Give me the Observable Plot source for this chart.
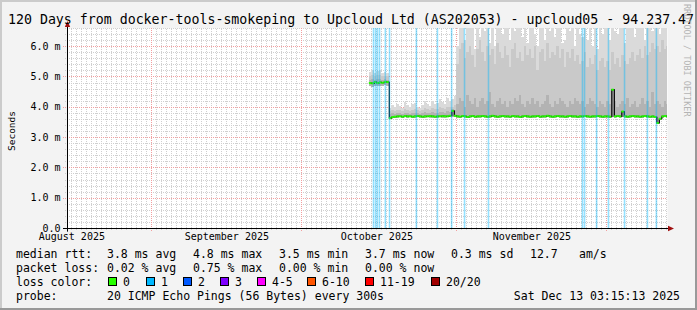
<!DOCTYPE html>
<html><head><meta charset="utf-8">
<script src="https://cdn.jsdelivr.net/npm/d3@7"></script>
<script src="https://cdn.jsdelivr.net/npm/@observablehq/plot@0.6"></script>
<style>
body{margin:0;background:#f3f3f3;}
#chart{position:relative;width:697px;height:310px;background:#f3f3f3;overflow:hidden;}
#chart svg{position:absolute;left:0;top:0;}
</style></head><body><div id="chart"></div>
<script>
// ---------- data ----------
const titleText = "120 Days from docker-tools-smokeping to Upcloud Ltd (AS202053) - upcloud05 - 94.237.47";
const startTime = "2025-08-15T03:15:13Z";
const endTime = "2025-12-13T03:15:13Z";
const bucketStartTime = "2025-10-14T12:00:00Z"; // half-day buckets
const yTicks = [0, 1, 2, 3, 4, 5, 6];
const yTickLabels = ["0.0", "1.0 m", "2.0 m", "3.0 m", "4.0 m", "5.0 m", "6.0 m"];
const monthStarts = ["2025-09-01", "2025-10-01", "2025-11-01", "2025-12-01"];
const monthLabelDates = ["2025-08-16", "2025-09-16", "2025-10-16", "2025-11-16"];
const monthLabels = ["August 2025", "September 2025", "October 2025", "November 2025"];

const median = [
  4.80,4.79,4.83,4.80,4.82,4.81,4.84,4.83,
  3.64,3.68,3.69,3.70,3.70,3.69,3.71,3.70,3.70,3.69,3.70,3.71,3.70,3.69,3.70,3.70,3.71,3.70,3.69,3.70,3.70,3.71,3.70,3.70,3.72,3.88,3.72,
  3.70,3.69,3.71,3.70,3.68,3.70,3.71,3.69,3.70,3.70,
  3.71,3.70,3.69,3.70,3.72,3.70,3.69,3.70,3.71,3.70,
  3.70,3.69,3.71,3.70,3.70,3.68,3.70,3.71,3.70,3.69,
  3.70,3.70,3.71,3.69,3.70,3.70,3.72,3.70,3.69,3.70,
  3.71,3.70,3.70,3.69,3.70,3.71,3.70,3.70,3.69,3.70,
  3.70,3.71,3.70,3.69,3.70,3.70,3.71,3.70,3.69,3.70,
  3.70,3.69,4.58,3.70,3.71,3.70,3.86,3.70,3.69,3.70,
  3.71,3.70,3.70,3.69,3.70,3.71,3.70,3.69,3.70,3.68,
  3.48,3.62,3.70,3.71,3.70
];
const smokeMin = [
  4.68,4.66,4.70,4.67,4.69,4.68,4.71,4.70,
  3.60,3.63,3.64,3.64,3.65,3.64,3.65,3.64,3.65,3.64,3.64,3.65,3.64,3.63,3.64,3.65,3.64,3.64,3.63,3.64,3.65,3.64,3.64,3.65,3.65,3.66,3.66,
  3.64,3.63,3.65,3.64,3.62,3.64,3.65,3.63,3.64,3.64,
  3.65,3.64,3.63,3.64,3.66,3.64,3.63,3.64,3.65,3.64,
  3.64,3.63,3.65,3.64,3.64,3.62,3.64,3.65,3.64,3.63,
  3.64,3.64,3.65,3.63,3.64,3.64,3.66,3.64,3.63,3.64,
  3.65,3.64,3.64,3.63,3.64,3.65,3.64,3.64,3.63,3.64,
  3.64,3.65,3.64,3.63,3.64,3.64,3.65,3.64,3.63,3.64,
  3.64,3.63,3.66,3.64,3.65,3.64,3.66,3.64,3.63,3.64,
  3.65,3.64,3.64,3.63,3.64,3.65,3.64,3.63,3.64,3.62,
  3.42,3.56,3.64,3.65,3.64
];
const smokeLo = [
  4.90,4.92,4.88,4.91,4.93,4.89,4.92,4.90,
  3.76,3.78,3.77,3.79,3.78,3.76,3.80,3.79,3.77,3.79,3.80,3.78,3.77,3.79,3.82,3.80,3.79,3.83,3.80,3.81,3.84,3.82,3.81,3.85,3.84,3.92,3.88,
  4.1,4.3,4.2,4.0,4.4,4.2,4.1,4.3,4.0,4.2,
  4.3,4.1,4.2,4.5,4.1,4.0,4.2,4.3,4.1,4.2,
  4.0,4.2,4.1,4.3,4.2,4.4,4.1,4.0,4.2,4.1,
  4.3,4.1,4.2,4.0,4.1,4.2,4.4,4.1,4.0,4.2,
  4.1,4.3,4.2,4.1,4.0,4.2,4.1,4.3,4.2,4.1,
  4.2,4.0,4.1,4.3,4.2,4.1,4.0,4.2,4.1,4.0,
  4.2,4.1,4.6,4.2,4.0,4.1,4.2,4.1,4.3,4.0,
  4.1,4.2,4.0,4.1,4.3,4.1,4.2,4.0,4.5,4.1,
  4.2,4.1,4.0,4.2,4.1
];
const smokeMid = [
  5.02,5.05,5.00,5.04,5.06,5.01,5.03,5.00,
  3.85,3.88,3.86,3.90,3.88,3.85,3.92,3.90,3.87,3.90,3.92,3.88,3.86,3.90,3.95,3.92,3.90,3.96,3.92,3.94,3.98,3.95,3.93,4.00,3.98,4.00,4.05,
  5.4,5.9,6.1,5.6,5.8,6.0,5.7,5.3,5.9,6.2,
  5.8,5.5,6.0,5.7,5.9,5.4,6.1,5.8,5.6,6.0,
  5.7,5.3,5.9,6.1,5.6,5.8,5.5,6.0,5.7,5.9,
  5.6,6.0,5.2,5.8,5.9,5.5,6.1,5.6,5.8,5.7,
  6.0,5.6,5.9,5.3,5.8,5.6,5.9,5.5,5.7,5.4,
  5.5,5.8,5.3,5.6,5.4,5.7,5.2,5.5,5.6,5.3,
  5.5,5.2,5.8,5.4,5.6,5.3,5.7,5.5,5.4,5.6,
  5.8,5.5,5.7,5.9,5.6,6.0,5.7,5.8,6.1,5.9,
  6.0,5.8,6.2,5.9,6.0
];
const smokeTop = [
  5.15,5.20,5.10,5.18,5.22,5.12,5.15,5.10,
  3.95,4.05,3.98,4.10,4.02,3.96,4.15,4.05,3.98,4.08,4.12,4.00,3.95,4.06,4.18,4.10,4.02,4.20,4.08,4.12,4.25,4.15,4.10,4.30,4.20,4.25,4.35,
  6.0,6.8,6.8,6.2,6.8,6.6,6.8,5.9,6.8,6.3,
  6.8,6.5,6.8,6.1,6.8,6.0,6.8,6.8,6.4,6.8,
  6.8,6.2,6.8,6.5,6.8,6.8,6.3,6.8,6.1,6.8,
  6.8,6.4,6.0,6.8,6.8,6.2,6.8,6.5,6.8,6.3,
  6.8,6.8,6.1,6.2,6.8,6.5,6.8,6.0,6.8,6.4,
  6.3,6.8,6.2,6.8,6.0,6.8,5.9,6.8,6.4,6.8,
  6.8,6.2,6.8,6.5,6.4,6.8,6.8,6.1,6.8,6.8,
  6.8,6.3,6.6,6.8,6.8,6.2,6.8,6.8,6.5,6.8,
  6.8,6.4,6.8,6.8,6.8
];
const lossTimes = [
  "2025-10-15T08:00Z","2025-10-15T18:00Z","2025-10-16T03:00Z","2025-10-16T13:00Z",
  "2025-10-17T17:00Z","2025-10-18T13:00Z","2025-10-23T22:00Z","2025-10-28T03:00Z",
  "2025-10-30T23:00Z","2025-11-02T13:00Z","2025-11-07T08:00Z","2025-11-26T03:00Z",
  "2025-11-26T13:00Z","2025-11-28T23:00Z","2025-12-01T08:00Z","2025-12-04T13:00Z",
  "2025-12-09T03:00Z","2025-12-10T22:00Z"
];

// legend
const rowLabels = ["median rtt:", "packet loss:", "loss color:", "probe:"];
const rttStats = ["3.8 ms avg", "4.8 ms max", "3.5 ms min", "3.7 ms now", "0.3 ms sd", "12.7", "am/s"];
const lossStats = ["0.02 % avg", "0.75 % max", "0.00 % min", "0.00 % now"];
const lossColorLabels = ["0", "1", "2", "3", "4-5", "6-10", "11-19", "20/20"];
const lossColors = ["#26ff00", "#00b8ff", "#0059ff", "#7e00ff", "#ff00ff", "#ff5500", "#ff0000", "#a10000"];
const probeText = "20 ICMP Echo Pings (56 Bytes) every 300s";
const dateText = "Sat Dec 13 03:15:13 2025";
const watermark = "RRDTOOL / TOBI OETIKER";

// ---------- build ----------
const t0 = new Date(startTime), t1 = new Date(endTime);
const DAY = 864e5, HALF = DAY / 2, PX = (t1 - t0) / 600; // ms per pixel
const b0 = +new Date(bucketStartTime);
const buckets = median.map((m, i) => ({
  t: new Date(b0 + i * HALF), t2: new Date(b0 + (i + 1) * HALF), tm: new Date(b0 + (i + 0.5) * HALF),
  median: m, min: smokeMin[i], lo: smokeLo[i], mid: smokeMid[i], top: smokeTop[i]
}));
const months = monthStarts.map(d => new Date(d + "T00:00:00Z"));
const monthSet = new Set(months.map(d => +d));
const minorDays = d3.utcDay.range(t0, t1).filter(d => !monthSet.has(+d));
const minorY = d3.range(1, 34).map(i => +(i * 0.2).toFixed(1)).filter(v => v % 1 !== 0 && v <= 6.6);
const majorY = yTicks.filter(v => v > 0);

const triRight = {draw(ctx, size) { const r = Math.sqrt(size / Math.PI); ctx.moveTo(r, 0); ctx.lineTo(-r, -r * 0.9); ctx.lineTo(-r, r * 0.9); ctx.closePath(); }};
const triUp = {draw(ctx, size) { const r = Math.sqrt(size / Math.PI); ctx.moveTo(0, -r); ctx.lineTo(-r * 0.9, r); ctx.lineTo(r * 0.9, r); ctx.closePath(); }};

const gridMinor = "#cfcfcf", gridMajor = "#f2a0a0";
const svg = Plot.plot({
  width: 697, height: 310,
  marginLeft: 67, marginRight: 30, marginTop: 28, marginBottom: 82,
  x: {type: "utc", domain: [t0, t1], axis: null},
  y: {domain: [0, 6.6], axis: null},
  style: {background: "transparent", fontFamily: "DejaVu Sans Mono", fontSize: "10px", overflow: "visible"},
  marks: [
    Plot.frame({fill: "white", stroke: "none"}),
    Plot.ruleX(minorDays, {y1: -0.07, y2: 6.6, stroke: gridMinor, strokeDasharray: "1,1", shapeRendering: "crispEdges"}),
    Plot.ruleY(minorY, {x1: new Date(+t0 - 2 * PX), x2: t1, stroke: gridMinor, strokeDasharray: "1,1", shapeRendering: "crispEdges"}),
    Plot.ruleX(months, {y1: -0.1, y2: 6.6, stroke: gridMajor, strokeDasharray: "1,1", shapeRendering: "crispEdges"}),
    Plot.ruleY(majorY, {x1: new Date(+t0 - 4 * PX), x2: t1, stroke: gridMajor, strokeDasharray: "1,1", shapeRendering: "crispEdges"}),
    // smoke
    Plot.rect(buckets, {x1: "t", x2: "t2", y1: "min", y2: "top", fill: "#dadada", clip: true, shapeRendering: "crispEdges"}),
    Plot.rect(buckets, {x1: "t", x2: "t2", y1: "min", y2: "mid", fill: "#c9c9c9", clip: true, shapeRendering: "crispEdges"}),
    Plot.rect(buckets, {x1: "t", x2: "t2", y1: "min", y2: "lo", fill: "#b3b3b3", clip: true, shapeRendering: "crispEdges"}),
    // median
    Plot.line(buckets, {x: "tm", y: "median", curve: "step", stroke: "black", strokeWidth: 1.2, clip: true}),
    Plot.ruleY(buckets, {x1: "t", x2: "t2", y: "median", stroke: lossColors[0], strokeWidth: 2, clip: true}),
    // loss markers
    Plot.ruleX(lossTimes.map(d => new Date(d)), {y1: 0, y2: 6.6, stroke: lossColors[1], strokeOpacity: 0.42, strokeWidth: 1.6}),
    // axes
    Plot.ruleY([0], {x1: new Date(+t0 - 4 * PX), x2: new Date(+t1 + 1 * PX), stroke: "black"}),
    Plot.ruleX([t0], {y1: -0.12, y2: 6.72, stroke: "black"}),
    Plot.dot([0], {x: new Date(+t1 + 3.5 * PX), y: 0, symbol: triRight, r: 3, fill: "#a01010", stroke: "none"}),
    Plot.dot([0], {x: t0, y: 6.75, symbol: triUp, r: 3, fill: "#a01010", stroke: "none"}),
    Plot.text(yTicks, {y: d => d, frameAnchor: "left", text: (d, i) => yTickLabels[i], dx: -7, textAnchor: "end", fill: "black"}),
    Plot.text(monthLabelDates.map(d => new Date(d + "T00:00:00Z")), {x: d => d, frameAnchor: "bottom", text: (d, i) => monthLabels[i], dy: 11, fill: "black"})
  ]
});
document.getElementById("chart").appendChild(svg);

// ---------- text: title, labels, legend ----------
const g = d3.select(svg).append("g").attr("font-family", "DejaVu Sans Mono").attr("fill", "black").attr("text-anchor", "start");
g.append("text").attr("x", 8).attr("y", 24).attr("font-size", 13.25).text(titleText);
g.append("text").attr("transform", "translate(15,131) rotate(-90)").attr("text-anchor", "middle").attr("font-size", 9.5).text("Seconds");
g.append("text").attr("transform", "translate(683.5,4) rotate(90)").attr("font-size", 8.5).attr("fill", "#b4b4b4").text(watermark);

const rowY = [258, 272, 286, 300];
const lg = g.append("g").attr("font-size", 11.5);
rowLabels.forEach((t, i) => lg.append("text").attr("x", 16).attr("y", rowY[i]).text(t));
const rttX = [107, 193, 279, 365, 451, 530, 579];
rttStats.forEach((t, i) => lg.append("text").attr("x", rttX[i]).attr("y", rowY[0]).text(t));
lossStats.forEach((t, i) => lg.append("text").attr("x", rttX[i]).attr("y", rowY[1]).text(t));
const boxX = [108, 146, 183, 220, 257, 307, 365, 431];
lossColorLabels.forEach((t, i) => {
  lg.append("rect").attr("x", boxX[i] + 0.5).attr("y", rowY[2] - 8.5).attr("width", 8).attr("height", 8)
    .attr("fill", lossColors[i]).attr("stroke", "black").attr("stroke-width", 1);
  lg.append("text").attr("x", boxX[i] + 15).attr("y", rowY[2]).text(t);
});
lg.append("text").attr("x", 107).attr("y", rowY[3]).text(probeText);
lg.append("text").attr("x", 680).attr("y", rowY[3]).attr("text-anchor", "end").text(dateText);

// frame shading
g.append("rect").attr("x", 0).attr("y", 0).attr("width", 697).attr("height", 2).attr("fill", "#cbcbcb");
g.append("rect").attr("x", 0).attr("y", 0).attr("width", 2).attr("height", 310).attr("fill", "#cbcbcb");
g.append("rect").attr("x", 695).attr("y", 0).attr("width", 2).attr("height", 310).attr("fill", "#999999");
g.append("rect").attr("x", 0).attr("y", 308).attr("width", 697).attr("height", 2).attr("fill", "#999999");
</script></body></html>
